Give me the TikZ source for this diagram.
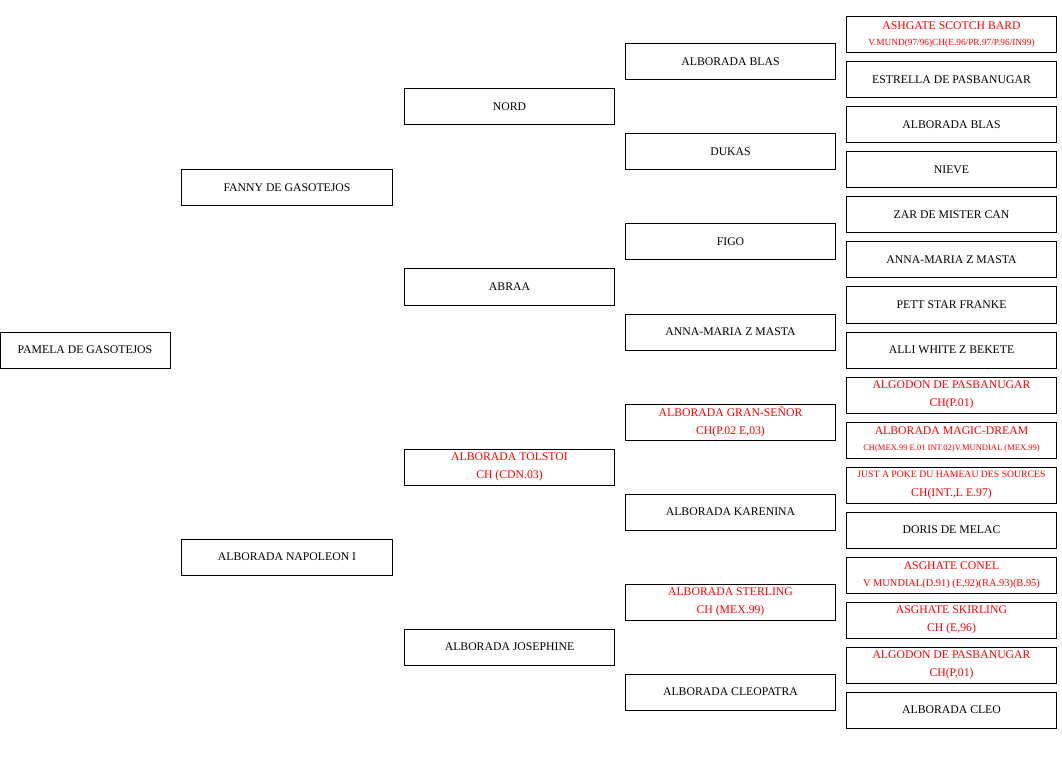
\documentclass[tikz,border=0pt]{standalone}
\usepackage{fontspec}
\setmainfont{Liberation Serif}
\usepackage{tikz}
\usetikzlibrary{positioning}
\definecolor{champred}{RGB}{255, 0, 0}

\begin{document}
\begin{tikzpicture}[x=0.75pt, y=-0.75pt,
  dog/.style={draw=black, line width=0.75pt, inner sep=0pt, outer sep=0pt, minimum height=27pt, minimum width=158pt, align=center, font=\fontsize{8.8}{14}\selectfont},
  root/.style={dog, minimum width=127.5pt},
  champ/.style={dog, text=champred}
]
  \useasboundingbox (0,0) rectangle (1062,773);

  % Dog and parents
  \node[root] (pamela) at (85, 350) {PAMELA DE GASOTEJOS};
  \node[dog] (fanny) at (287, 188) {FANNY DE GASOTEJOS};
  \node[dog] (napoleon) at (287, 557) {ALBORADA NAPOLEON I};

  % Grandparents
  \node[dog] (nord) at (509.5, 107) {NORD};
  \node[dog] (abraa) at (509.5, 287) {ABRAA};
  \node[champ] (tolstoi) at (509.5, 467) {ALBORADA TOLSTOI\\CH (CDN.03)};
  \node[dog] (josephine) at (509.5, 647) {ALBORADA JOSEPHINE};

  % Great-grandparents
  \node[dog] (blas) at (730.5, 62) {ALBORADA BLAS};
  \node[dog] (dukas) at (730.5, 152) {DUKAS};
  \node[dog] (figo) at (730.5, 242) {FIGO};
  \node[dog] (annamaria) at (730.5, 332) {ANNA-MARIA Z MASTA};
  \node[champ] (gransenor) at (730.5, 422) {ALBORADA GRAN-SEÑOR\\CH(P.02 E,03)};
  \node[dog] (karenina) at (730.5, 512) {ALBORADA KARENINA};
  \node[champ] (sterling) at (730.5, 602) {ALBORADA STERLING\\CH (MEX.99)};
  \node[dog] (cleopatra) at (730.5, 692) {ALBORADA CLEOPATRA};

  % Great-great-grandparents
  \node[champ] (scotch) at (951.5, 35) {ASHGATE SCOTCH BARD\\[-2pt]{\fontsize{7}{7}\selectfont V.MUND(97/96)CH(E.96/PR.97/P.96/IN99)}};
  \node[dog] (estrella) at (951.5, 80) {ESTRELLA DE PASBANUGAR};
  \node[dog] (blastwo) at (951.5, 125) {ALBORADA BLAS};
  \node[dog] (nieve) at (951.5, 170) {NIEVE};
  \node[dog] (zar) at (951.5, 215) {ZAR DE MISTER CAN};
  \node[dog] (annamariatwo) at (951.5, 260) {ANNA-MARIA Z MASTA};
  \node[dog] (pett) at (951.5, 305) {PETT STAR FRANKE};
  \node[dog] (alli) at (951.5, 350) {ALLI WHITE Z BEKETE};
  \node[champ] (algodon) at (951.5, 395) {ALGODON DE PASBANUGAR\\CH(P.01)};
  \node[champ] (magic) at (951.5, 440) {ALBORADA MAGIC-DREAM\\[-2pt]{\fontsize{6.4}{7}\selectfont CH(MEX.99 E.01 INT.02)V.MUNDIAL (MEX.99)}};
  \node[champ] (poke) at (951.5, 485) {{\fontsize{7.3}{7.3}\selectfont JUST A POKE DU HAMEAU DES SOURCES}\\CH(INT.,L E.97)};
  \node[dog] (doris) at (951.5, 530) {DORIS DE MELAC};
  \node[champ] (conel) at (951.5, 575) {ASGHATE CONEL\\[-1pt]{\fontsize{7.8}{8}\selectfont V MUNDIAL(D.91) (E,92)(RA.93)(B.95)}};
  \node[champ] (skirling) at (951.5, 620) {ASGHATE SKIRLING\\CH (E,96)};
  \node[champ] (algodontwo) at (951.5, 665) {ALGODON DE PASBANUGAR\\CH(P,01)};
  \node[dog] (cleo) at (951.5, 710) {ALBORADA CLEO};
\end{tikzpicture}
\end{document}
